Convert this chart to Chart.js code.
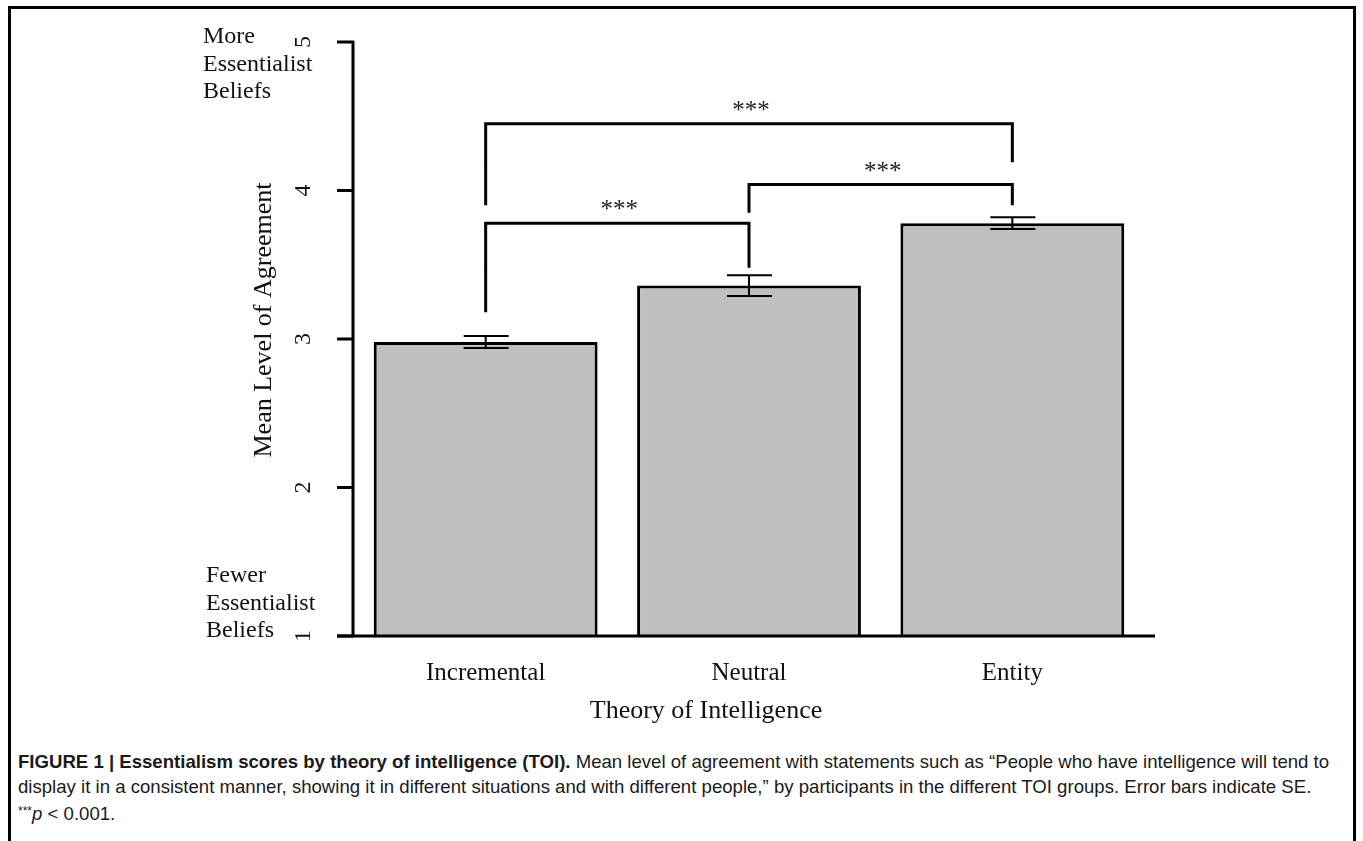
<!DOCTYPE html>
<html>
<head>
<meta charset="utf-8">
<script src="https://cdn.jsdelivr.net/npm/chart.js@4"></script>
<style>
  html, body { margin: 0; padding: 0; background: #fff; }
  #page { position: relative; width: 1363px; height: 841px; overflow: hidden; }
  #frame { position: absolute; left: 8px; top: 6px; width: 1342px; height: 900px;
           border: 3px solid #000; box-sizing: content-box; }
  #chartBox { position: absolute; left: 0; top: 0; width: 1363px; height: 740px; }
  #caption { position: absolute; left: 18px; top: 750px; width: 1330px;
             font-family: "Liberation Sans", Arial, sans-serif; font-size: 18.6px;
             line-height: 24.5px; color: #1a1a1a; white-space: nowrap; }
  #caption b { font-weight: bold; }
</style>
</head>
<body>
<div id="page">
  <div id="frame"></div>
  <div id="chartBox"><canvas id="toi-chart"></canvas></div>
  <div id="caption">
    <b>FIGURE 1 | Essentialism scores by theory of intelligence (TOI).</b> Mean level of agreement with statements such as “People who have intelligence will tend to<br>
    display it in a consistent manner, showing it in different situations and with different people,” by participants in the different TOI groups. Error bars indicate SE.<br>
    <span style="font-size:12px;vertical-align:5px">***</span><i>p</i> &lt; 0.001.
  </div>
</div>
<script>
// data
const categories = ["Incremental", "Neutral", "Entity"];
const means = [2.98, 3.36, 3.78];
const stdErrors = [0.04, 0.07, 0.04];
const yTicks = [1, 2, 3, 4, 5];
// significance brackets: [from, to, top value, left leg end, right leg end]
const bracketPairs = [[0, 1], [1, 2], [0, 2]];
const bracketTops = [3.78, 4.04, 4.45];
const bracketLeftEnds = [3.18, 3.85, 3.90];
const bracketRightEnds = [3.48, 3.90, 4.19];
const bracketLabels = ["***", "***", "***"];

const serif = '"Liberation Serif", "Times New Roman", serif';

// draws axes, labels, error bars and brackets on top of the bars
const decorPlugin = {
  id: "decor",
  afterDatasetsDraw(chart) {
    const ctx = chart.ctx;
    const xs = chart.scales.x;
    const ys = chart.scales.y;
    const area = chart.chartArea;
    ctx.save();
    ctx.strokeStyle = "#000";
    ctx.fillStyle = "#111";
    ctx.lineCap = "butt";

    // error bars
    ctx.lineWidth = 2;
    means.forEach((m, i) => {
      const x = xs.getPixelForValue(i);
      const yTop = ys.getPixelForValue(m + stdErrors[i]);
      const yBot = ys.getPixelForValue(m - stdErrors[i]);
      ctx.beginPath();
      ctx.moveTo(x, yTop); ctx.lineTo(x, yBot);
      ctx.moveTo(x - 22, yTop); ctx.lineTo(x + 23, yTop);
      ctx.moveTo(x - 22, yBot); ctx.lineTo(x + 23, yBot);
      ctx.stroke();
    });

    // axes
    ctx.lineWidth = 3;
    ctx.beginPath();
    ctx.moveTo(area.left - 1, ys.getPixelForValue(5) - 1);
    ctx.lineTo(area.left - 1, area.bottom);
    ctx.moveTo(area.left - 17, area.bottom);
    ctx.lineTo(area.right + 11, area.bottom);
    ctx.stroke();

    // y ticks and rotated labels
    ctx.font = "24px " + serif;
    yTicks.forEach(t => {
      const y = ys.getPixelForValue(t);
      ctx.beginPath();
      ctx.moveTo(area.left - 17, y); ctx.lineTo(area.left, y);
      ctx.stroke();
      ctx.save();
      ctx.translate(area.left - 44, y);
      ctx.rotate(-Math.PI / 2);
      ctx.textAlign = "center";
      ctx.textBaseline = "alphabetic";
      ctx.fillText(String(t), 0, 0);
      ctx.restore();
    });

    // y title
    ctx.save();
    ctx.font = "26px " + serif;
    ctx.translate(area.left - 83, 320);
    ctx.rotate(-Math.PI / 2);
    ctx.textAlign = "center";
    ctx.fillText("Mean Level of Agreement", 0, 0);
    ctx.restore();

    // side notes
    ctx.font = "24px " + serif;
    ctx.textAlign = "left";
    ["More", "Essentialist", "Beliefs"].forEach((s, i) => ctx.fillText(s, 203, 43 + i * 27.5));
    ["Fewer", "Essentialist", "Beliefs"].forEach((s, i) => ctx.fillText(s, 206, 582 + i * 27.5));

    // x labels
    ctx.font = "25px " + serif;
    ctx.textAlign = "center";
    categories.forEach((c, i) => ctx.fillText(c, xs.getPixelForValue(i), 680));
    ctx.font = "26px " + serif;
    ctx.fillText("Theory of Intelligence", 706, 718);

    // significance brackets
    ctx.lineWidth = 3;
    ctx.lineJoin = "miter";
    ctx.font = "25px " + serif;
    ctx.fillStyle = "#222";
    bracketPairs.forEach((p, i) => {
      const x1 = xs.getPixelForValue(p[0]);
      const x2 = xs.getPixelForValue(p[1]);
      const yt = ys.getPixelForValue(bracketTops[i]);
      ctx.beginPath();
      ctx.moveTo(x1, ys.getPixelForValue(bracketLeftEnds[i]));
      ctx.lineTo(x1, yt);
      ctx.lineTo(x2, yt);
      ctx.lineTo(x2, ys.getPixelForValue(bracketRightEnds[i]));
      ctx.stroke();
      ctx.fillText(bracketLabels[i], (x1 + x2) / 2 + 2, yt - 6);
    });
    ctx.restore();
  }
};

new Chart(document.getElementById("toi-chart"), {
  type: "bar",
  data: {
    labels: categories,
    datasets: [{
      data: means,
      backgroundColor: "#bfbfbf",
      borderColor: "#000",
      borderWidth: 3,
      borderSkipped: false,
      barPercentage: 0.85,
      categoryPercentage: 1.0
    }]
  },
  options: {
    responsive: true,
    maintainAspectRatio: false,
    devicePixelRatio: 1,
    animation: false,
    layout: { padding: { left: 354, right: 219, top: 42, bottom: 104 } },
    scales: {
      x: { display: false, offset: true },
      y: { display: false, min: 1, max: 5 }
    },
    plugins: { legend: { display: false }, tooltip: { enabled: false } }
  },
  plugins: [decorPlugin]
});
</script>
</body>
</html>
